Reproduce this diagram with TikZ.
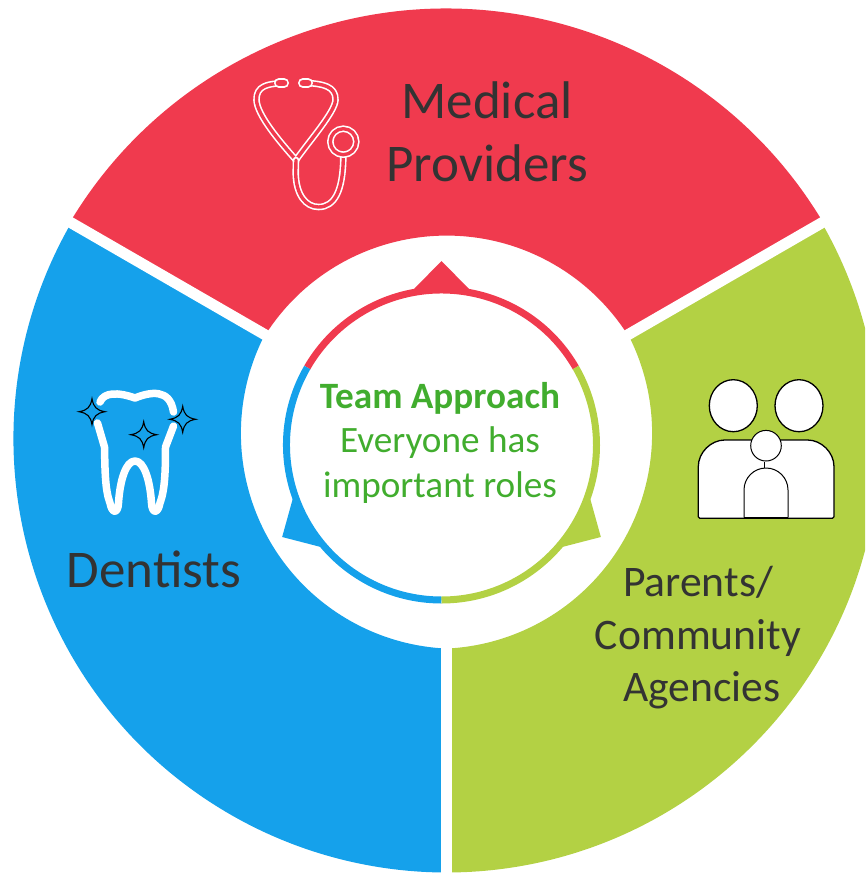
\documentclass[tikz,border=0pt]{standalone}
\usepackage{fontspec}
\setmainfont{Carlito}
\definecolor{redseg}{HTML}{F03A4E}
\definecolor{blueseg}{HTML}{15A1EB}
\definecolor{greenseg}{HTML}{B3D144}
\definecolor{teamgreen}{HTML}{41AD2E}
\definecolor{labelgray}{HTML}{333333}
\tikzset{
  seglabel/.style={text=labelgray, align=center, inner sep=0pt},
  teamtext/.style={text=teamgreen, align=center, inner sep=0pt, font=\fontsize{37.2}{44.5}\selectfont},
  scopetube/.style={draw=white, double=redseg, double distance=3.4, line width=1.6, line cap=round, line join=round},
  toothline/.style={draw=white, line width=7.5, line cap=round, line join=round},
  sparkle/.pic={\draw[black, line width=1.1, line join=miter]
      (0,13) .. controls (1.5,4.5) and (4.5,1.5) .. (13,0)
      .. controls (4.5,-1.5) and (1.5,-4.5) .. (0,-13)
      .. controls (-1.5,-4.5) and (-4.5,-1.5) .. (-13,0)
      .. controls (-4.5,1.5) and (-1.5,4.5) .. cycle;},
  person/.style={fill=white, draw=black, line width=1.3},
}
\begin{document}
\begin{tikzpicture}[x=1pt, y=1pt]
  \useasboundingbox (0,0) rectangle (865,-873);
  \clip (0,0) rectangle (865,-873);

  \coordinate (hub) at (446.5,-439.5);
  \coordinate (ring) at (441.5,-445);

  % wheel
  \fill[redseg] (446.5,-447) ++(31.5:438.5) arc (31.5:148.5:438.5)
      -- ([shift={(148.5:215)}]446.5,-450.6) arc (148.5:31.5:215) -- cycle;
  \fill[blueseg] (447,-439) ++(150:433.5) arc (150:270:433.5)
      -- ([shift={(267.2:215.5)}]456.4,-433.3) arc (267.2:153:215.5) -- cycle;
  \fill[greenseg] (446,-439) ++(270:433.5) arc (270:390:433.5)
      -- ([shift={(387:215.5)}]436.6,-433.3) arc (387:272.8:215.5) -- cycle;
  \foreach \a in {30, 150, 270} {
    \draw[white, line width=11] (hub) -- ++(\a:445);
  }

  % inner ring with its arrow heads
  \foreach \c/\a in {redseg/30, blueseg/150, greenseg/270} {
    \draw[\c, line width=7] (ring) ++(\a:155) arc (\a:\a+120:155);
    \fill[\c, shift={(ring)}, rotate=\a+60] (184,0) -- (156,27.5) -- (156,-27.5) -- cycle;
  }

  % stethoscope
  \draw[scopetube] (280,-83.3) .. controls (268,-84) and (256,-86) .. (256.5,-100)
      .. controls (257,-115) and (280,-142) .. (296,-160)
      .. controls (310,-140) and (335,-112) .. (335.5,-100)
      .. controls (336,-86) and (322,-84) .. (308,-83);
  \draw[scopetube] (296,-160) -- (295.7,-173) .. controls (296,-195) and (306,-207) .. (318.5,-207)
      .. controls (335,-207) and (343,-190) .. (343.3,-157);
  \draw[scopetube] (343.3,-141.7) circle (13);
  \draw[white, line width=10, line cap=round] (279,-83) -- (284,-83);
  \draw[redseg, line width=6.6, line cap=round] (279,-83) -- (284,-83);
  \draw[white, line width=10, line cap=round] (308,-83) -- (303,-83);
  \draw[redseg, line width=6.6, line cap=round] (308,-83) -- (303,-83);

  \node[seglabel, font=\fontsize{53}{63}\selectfont] (medical) at (487,-132) {Medical\\Providers};

  % tooth
  \draw[toothline] (100,-402) .. controls (104,-392) and (118,-392) .. (135,-398)
      .. controls (150,-392) and (170,-388) .. (173.5,-412);
  \draw[toothline] (97.5,-423) -- (104.5,-447) .. controls (105,-470) and (105,-490) .. (110,-503)
      .. controls (112,-514) and (118,-514) .. (118.5,-503)
      .. controls (120,-480) and (126,-461) .. (135,-461)
      .. controls (144,-461) and (150,-480) .. (151.5,-503)
      .. controls (152,-514) and (158,-514) .. (160,-503)
      .. controls (165,-490) and (165.5,-470) .. (165.5,-447) -- (173.5,-426);
  \pic at (92,-411.7) {sparkle};
  \pic at (143.7,-434.7) {sparkle};
  \pic at (182.7,-419.3) {sparkle};

  \node[seglabel, font=\fontsize{53}{63}\selectfont] (dentists) at (154,-569) {Dentists};

  % family
  \draw[person] (733.3,-405.7) ellipse (24 and 26);
  \draw[person] (799,-405.7) ellipse (24 and 26);
  \draw[person, rounded corners=1.5] (698.3,-518.3) -- (698.3,-468) arc (180:90:28) -- (806,-440) arc (90:0:28) -- (834,-518.3) -- cycle;
  \draw[person, line width=1] (764,-462) -- (764,-468);
  \draw[person, line width=1] (744,-517.7) -- (744,-490) arc (180:90:22) arc (90:0:22) -- (788,-517.7);
  \draw[black, line width=2] (744,-517.7) -- (788,-517.7);
  \draw[person, line width=1] (766,-445.7) circle (15.3);

  \node[seglabel, font=\fontsize{43.6}{52.5}\selectfont] (parents) at (698,-638) {Parents/\\Community\\\hspace*{8pt}Agencies};

  % centre text
  \node[teamtext] (team) at (440,-442.5) {\textbf{Team Approach}\\Everyone has\\important roles};
\end{tikzpicture}
\end{document}
